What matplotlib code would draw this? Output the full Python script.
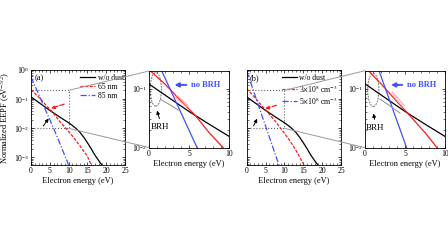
import numpy as np
import matplotlib
matplotlib.use('Agg')
import matplotlib.pyplot as plt
from matplotlib.patches import Ellipse, Rectangle, ConnectionPatch
from matplotlib.ticker import LogLocator, NullFormatter, MultipleLocator, FixedLocator

plt.rcParams['font.family'] = ['Liberation Serif', 'DejaVu Serif']
plt.rcParams['mathtext.fontset'] = 'stix'
plt.rcParams['font.size'] = 5.5

# ---- data ----
energy_nodust = [0, 2.5, 5, 7.5, 10, 11, 12, 13, 14, 15, 16, 17, 18, 19]
eepf_nodust = [0.12, 0.07, 0.041, 0.025, 0.0155, 0.0125, 0.0098, 0.0073,
               0.005, 0.0032, 0.002, 0.0012, 0.00078, 0.00052]

energy_65nm = [0, 2, 4, 5.8, 7.5, 9.25, 11, 13, 15, 16]
eepf_65nm = [0.21, 0.12, 0.062, 0.035, 0.018, 0.01, 0.0055, 0.0025, 0.0011, 0.00055]

energy_85nm = [0, 2, 4, 6, 8, 10]
eepf_85nm = [0.58, 0.152, 0.039, 0.01, 0.0024, 0.00055]

energy_3e8 = [0, 2, 4, 5.6, 7.5, 9, 11, 13, 15.2]
eepf_3e8 = [0.23, 0.12, 0.06, 0.035, 0.018, 0.01, 0.0045, 0.0018, 0.00055]

energy_5e8 = [0, 1.75, 3, 5.2, 7, 8.6]
eepf_5e8 = [0.91, 0.2, 0.0675, 0.01, 0.0021, 0.00053]

labels_a = ['w/o dust', '65 nm', '85 nm']
labels_b = ['w/o dust', r'3$\times$10$^8$ cm$^{-3}$', r'5$\times$10$^8$ cm$^{-3}$']

RED = '#ff1a1a'
BLUE = '#4050ff'
PINK = '#ff9c9c'
GREY = '#9a9a9a'

W, H = 448, 252
fig = plt.figure(figsize=(W / 100, H / 100), dpi=100)


def frac(x0, y0, x1, y1):
    return [x0 / W, 1 - y1 / H, (x1 - x0) / W, (y1 - y0) / H]


def style_axes(ax):
    ax.set_yscale('log')
    ax.tick_params(which='both', direction='in', top=True, right=True,
                   labelsize=5.5, pad=1.5)
    ax.tick_params(which='major', length=2.2, width=0.5)
    ax.tick_params(which='minor', length=1.2, width=0.4)
    for s in ax.spines.values():
        s.set_linewidth(0.6)
    ax.yaxis.set_minor_locator(LogLocator(base=10, subs=np.arange(2, 10)))
    ax.yaxis.set_minor_formatter(NullFormatter())
    ax.set_xlabel('Electron energy (eV)', fontsize=6, labelpad=1.5)


def main_panel(ax, series, labels, tag, show_ylabel, leg_x):
    style_axes(ax)
    styles = [dict(color='black', ls='-'),
              dict(color=RED, ls=(0, (2.5, 1.2))),
              dict(color=BLUE, ls=(0, (5, 1.5, 1, 1.5)))]
    for (xs, ys), lab, st in zip(series, labels, styles):
        ax.plot(xs, ys, lw=0.9, label=lab, **st)
    ax.set_xlim(0, 25)
    ax.set_ylim(5.5e-4, 1)
    ax.xaxis.set_major_locator(MultipleLocator(5))
    ax.xaxis.set_minor_locator(MultipleLocator(1))
    ax.yaxis.set_major_locator(FixedLocator([1e-3, 1e-2, 1e-1, 1e0]))
    if show_ylabel:
        ax.set_ylabel(r'Normalized EEPF (eV$^{-3/2}$)', fontsize=6, labelpad=1)
    else:
        ax.set_yticklabels([])
    ax.add_patch(Rectangle((0, 0.01), 10, 0.19, fill=False, ls=':',
                           lw=0.8, ec='#666666'))
    ax.text(0.035, 0.955, tag, transform=ax.transAxes, fontsize=6,
            va='top', ha='left')
    ax.legend(loc='upper left', bbox_to_anchor=(leg_x, 1.0), frameon=False,
              fontsize=5.5, handlelength=2.0, handletextpad=0.3,
              labelspacing=0.15, borderpad=0.3, borderaxespad=0.2)


def inset_panel(ax, series):
    style_axes(ax)
    colors = ['black', RED, BLUE]
    for (xs, ys), c in zip(series, colors):
        ax.plot(xs, ys, lw=0.9, color=c)
    ax.set_xlim(0, 10)
    ax.set_ylim(0.01, 0.2)
    ax.xaxis.set_major_locator(MultipleLocator(5))
    ax.xaxis.set_minor_locator(MultipleLocator(1))
    ax.yaxis.set_major_locator(FixedLocator([1e-2, 1e-1]))


def connect(ax, axin):
    for ya, yb in [(0.2, 1), (0.01, 0)]:
        cp = ConnectionPatch(xyA=(10, ya), coordsA=ax.transData,
                             xyB=(0, yb), coordsB=axin.transAxes,
                             color=GREY, lw=0.7)
        fig.add_artist(cp)


# ---------- panel (a) ----------
ax_a = fig.add_axes(frac(31, 70, 125, 165))
ser_a = [(energy_nodust, eepf_nodust), (energy_65nm, eepf_65nm),
         (energy_85nm, eepf_85nm)]
main_panel(ax_a, ser_a, labels_a, '(a)', True, 0.48)
ax_a.annotate('', xy=(4.6, 0.045), xytext=(9.5, 0.072),
              arrowprops=dict(arrowstyle='-|>', color=RED, lw=0.9, ls='--',
                              mutation_scale=5))
ax_a.annotate('', xy=(5.1, 0.026), xytext=(2.85, 0.01),
              arrowprops=dict(arrowstyle='-|>', color='black', lw=0.7,
                              mutation_scale=5))

axi_a = fig.add_axes(frac(149, 71, 229, 147.5))
inset_panel(axi_a, ser_a)
axi_a.plot([3.25, 4.71], [0.073, 0.049], color=PINK, lw=0.7)
axi_a.plot([3.45, 4.91], [0.077, 0.0515], color=PINK, lw=0.7)
axi_a.plot([1.46, 3.66], [0.066, 0.0435], color=GREY, lw=0.8)
axi_a.add_patch(Ellipse((0.085, 0.76), 0.14, 0.44, transform=axi_a.transAxes,
                        fill=False, ec='#777777', ls=(0, (2, 1)), lw=0.7))
axi_a.text(1.4, 0.0223, 'BRH', fontsize=6.5, ha='center', va='center')
axi_a.annotate('', xy=(0.9, 0.047), xytext=(1.4, 0.028),
               arrowprops=dict(arrowstyle='-|>', color='black', lw=0.7,
                               mutation_scale=5))
axi_a.text(5.2, 0.116, 'no BRH', fontsize=6, color=BLUE, fontweight='bold',
           ha='left', va='center')
axi_a.annotate('', xy=(2.84, 0.116), xytext=(5.0, 0.116),
               arrowprops=dict(arrowstyle='-|>', color=BLUE, lw=1.4,
                               mutation_scale=6))
connect(ax_a, axi_a)

# ---------- panel (b) ----------
ax_b = fig.add_axes(frac(246.7, 70, 341, 165))
ser_b = [(energy_nodust, eepf_nodust), (energy_3e8, eepf_3e8),
         (energy_5e8, eepf_5e8)]
main_panel(ax_b, ser_b, labels_b, '(b)', False, 0.33)
ax_b.annotate('', xy=(4.2, 0.045), xytext=(8.6, 0.065),
              arrowprops=dict(arrowstyle='-|>', color=RED, lw=0.9, ls='--',
                              mutation_scale=5))
ax_b.annotate('', xy=(3.1, 0.026), xytext=(1.5, 0.01),
              arrowprops=dict(arrowstyle='-|>', color='black', lw=0.7,
                              mutation_scale=5))

axi_b = fig.add_axes(frac(365, 70.7, 445, 147.7))
inset_panel(axi_b, ser_b)
axi_b.plot([3.21, 4.71], [0.083, 0.049], color=PINK, lw=0.7)
axi_b.plot([3.41, 4.91], [0.087, 0.0515], color=PINK, lw=0.7)
axi_b.plot([1.875, 4.375], [0.0665, 0.0385], color=GREY, lw=0.8)
axi_b.add_patch(Ellipse((0.104, 0.75), 0.14, 0.43, transform=axi_b.transAxes,
                        fill=False, ec='#777777', ls=(0, (2, 1)), lw=0.7))
axi_b.text(1.25, 0.0215, 'BRH', fontsize=6.5, ha='center', va='center')
axi_b.annotate('', xy=(1.0, 0.042), xytext=(1.25, 0.027),
               arrowprops=dict(arrowstyle='-|>', color='black', lw=0.7,
                               mutation_scale=5))
axi_b.text(5.2, 0.115, 'no BRH', fontsize=6, color=BLUE, fontweight='bold',
           ha='left', va='center')
axi_b.annotate('', xy=(2.9, 0.115), xytext=(5.0, 0.115),
               arrowprops=dict(arrowstyle='-|>', color=BLUE, lw=1.4,
                               mutation_scale=6))
connect(ax_b, axi_b)

fig.savefig('out.png', dpi=100)
